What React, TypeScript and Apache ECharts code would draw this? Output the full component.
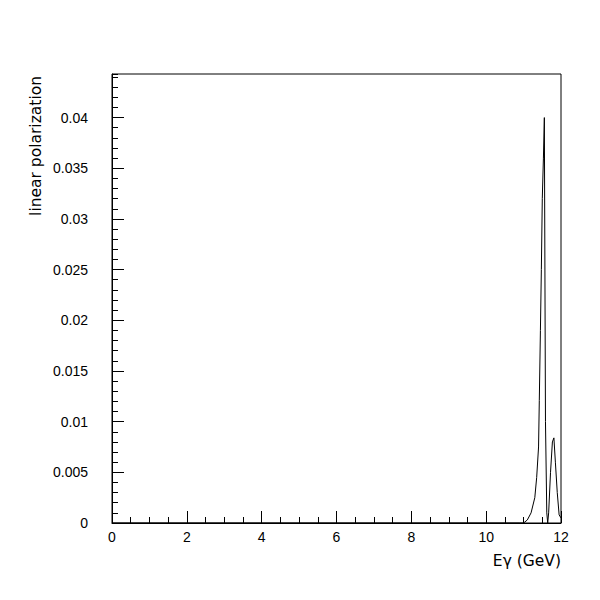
import React, { useEffect, useRef } from "react";
import * as echarts from "echarts";

const energy = [0, 10.9, 11.0, 11.1, 11.2, 11.3, 11.35, 11.4, 11.42, 11.45, 11.475, 11.5, 11.53, 11.555, 11.57, 11.585, 11.62, 11.645, 11.67, 11.72, 11.77, 11.81, 11.85, 11.9, 11.95, 12.0];
const polarization = [0, 0, 0, 0.0003, 0.001, 0.0025, 0.0045, 0.0075, 0.0121, 0.019, 0.025, 0.032, 0.036, 0.04, 0.04, 0.01, 0.001, 0, 0.001, 0.005, 0.008, 0.0084, 0.006, 0.003, 0.0008, 0.0005];
const xTicks = [0, 2, 4, 6, 8, 10, 12];
const yMax = 0.0443;

export default function App() {
  const ref = useRef<HTMLDivElement>(null);
  useEffect(() => {
    if (!ref.current) return;
    const chart = echarts.init(ref.current, undefined, { renderer: "svg" });
    const font = "Liberation Sans";
    const titleFont = "DejaVu Sans";
    const data = energy.map((e, i) => [e, polarization[i]]);
    chart.setOption({
      animation: false,
      backgroundColor: "#ffffff",
      textStyle: { fontFamily: font },
      grid: {
        left: 112,
        right: 39,
        top: 74,
        bottom: 77,
        show: true,
        borderColor: "#000",
        borderWidth: 1,
        backgroundColor: "transparent",
      },
      xAxis: [
        {
          type: "value",
          min: xTicks[0],
          max: xTicks[xTicks.length - 1],
          interval: 2,
          axisLine: { show: true, lineStyle: { color: "#000", width: 1 } },
          axisTick: { show: true, inside: true, length: 12, lineStyle: { color: "#000" } },
          minorTick: { show: true, splitNumber: 4, length: 6, lineStyle: { color: "#000" } },
          splitLine: { show: false },
          axisLabel: { color: "#000", fontSize: 14, fontFamily: font, margin: 7 },
        },
      ],
      yAxis: [
        {
          type: "value",
          min: 0,
          max: yMax,
          interval: 0.005,
          axisLine: { show: true, lineStyle: { color: "#000", width: 1 } },
          axisTick: { show: true, inside: true, length: 12, lineStyle: { color: "#000" } },
          splitLine: { show: false },
          axisLabel: {
            color: "#000",
            fontSize: 14,
            fontFamily: font,
            margin: 24,
            showMaxLabel: false,
            formatter: (v: number) => {
              const r = Math.round(v / 0.005);
              if (Math.abs(v - r * 0.005) > 1e-9) return "";
              return String(parseFloat((r * 0.005).toFixed(3)));
            },
          },
        },
        {
          type: "value",
          position: "left",
          offset: 0,
          min: 0,
          max: yMax,
          interval: 0.001,
          axisLine: { show: false },
          axisTick: { show: true, inside: true, length: 6, lineStyle: { color: "#000" } },
          splitLine: { show: false },
          axisLabel: { show: false },
        },
      ],
      series: [
        {
          type: "line",
          data,
          xAxisIndex: 0,
          yAxisIndex: 0,
          showSymbol: false,
          symbol: "none",
          lineStyle: { color: "#000", width: 1 },
          silent: true,
        },
      ],
      graphic: [
        {
          type: "text",
          x: 36,
          y: 76,
          rotation: Math.PI / 2,
          style: {
            text: "linear polarization",
            fontFamily: titleFont,
            fontSize: 15.5,
            fill: "#000",
            textAlign: "right",
            textVerticalAlign: "middle",
          },
        },
        {
          type: "text",
          x: 561,
          y: 561,
          style: {
            text: "Eγ (GeV)",
            fontFamily: titleFont,
            fontSize: 15.5,
            fill: "#000",
            textAlign: "right",
            textVerticalAlign: "middle",
          },
        },
      ],
    });
    return () => chart.dispose();
  }, []);
  return (
    <div
      ref={ref}
      style={{ position: "fixed", left: 0, top: 0, width: 600, height: 600, background: "#fff" }}
    />
  );
}
